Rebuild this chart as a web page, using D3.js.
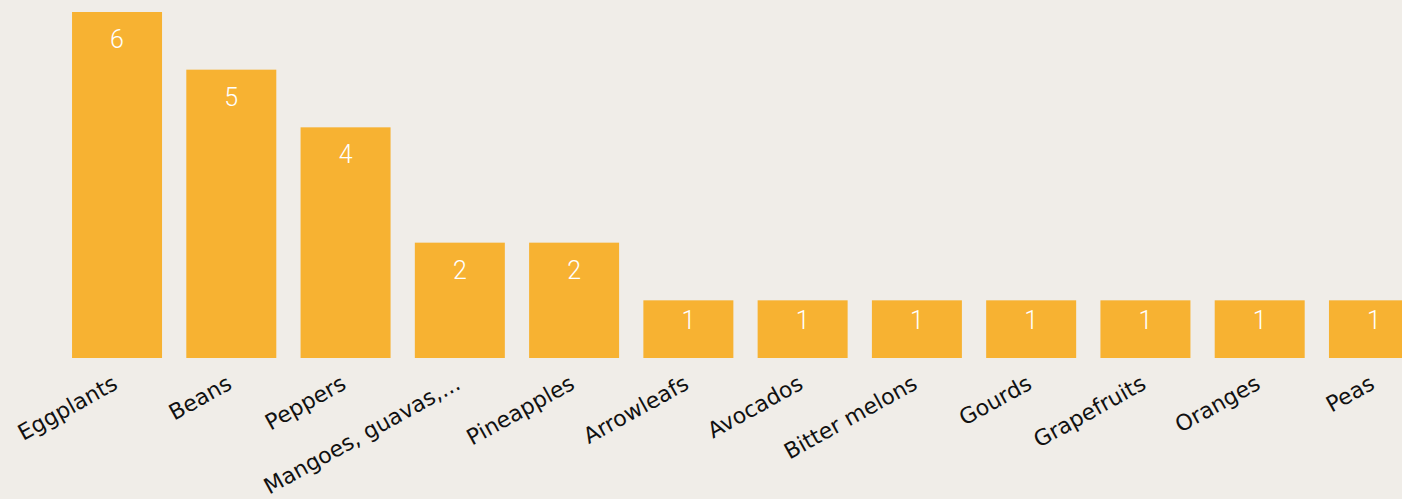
<!DOCTYPE html>
<html>
<head>
<meta charset="utf-8">
<script src="https://cdn.jsdelivr.net/npm/d3@7"></script>
<style>
  html, body { margin: 0; padding: 0; background: #f0ede8; overflow: hidden; }
  svg { display: block; }
</style>
</head>
<body>
<svg id="chart" width="1402" height="499"></svg>
<script>
const categories = ["Eggplants", "Beans", "Peppers", "Mangoes, guavas,...", "Pineapples", "Arrowleafs", "Avocados", "Bitter melons", "Gourds", "Grapefruits", "Oranges", "Peas"];
const values = [6, 5, 4, 2, 2, 1, 1, 1, 1, 1, 1, 1];
const yDomain = [0, 6];

const W = 1402, H = 499;
const svg = d3.select("#chart");
svg.append("rect").attr("width", W).attr("height", H).attr("fill", "#f0ede8");

const x = d3.scaleBand()
  .domain(categories)
  .range([59.9, 1431.1])
  .paddingInner(0.2124)
  .paddingOuter(0.1062);

const y = d3.scaleLinear().domain(yDomain).range([358, 12]);

const data = categories.map((c, i) => ({ c, v: values[i] }));

svg.append("g").selectAll("rect")
  .data(data)
  .join("rect")
  .attr("x", d => x(d.c))
  .attr("y", d => y(d.v))
  .attr("width", x.bandwidth())
  .attr("height", d => y(0) - y(d.v))
  .attr("fill", "#f7b232");

svg.append("g").selectAll("text")
  .data(data)
  .join("text")
  .attr("x", d => x(d.c) + x.bandwidth() / 2)
  .attr("y", d => y(d.v) + Math.min(36, (y(0) - y(d.v)) / 2))
  .attr("text-anchor", "middle")
  .attr("fill", "#ffffff")
  .style("font-family", "Roboto, sans-serif")
  .style("font-weight", 300)
  .style("font-size", "25px")
  .text(d => d.v);

const axis = svg.append("g")
  .attr("transform", `translate(0,${y(0)})`)
  .call(d3.axisBottom(x).tickSize(0).tickPadding(0));
axis.select(".domain").remove();
axis.selectAll(".tick text")
  .attr("x", 0).attr("y", 0).attr("dy", 0)
  .attr("text-anchor", "end")
  .attr("transform", "translate(2,30) rotate(-29)")
  .attr("fill", "#111111")
  .style("font-family", "'DejaVu Sans', sans-serif")
  .style("font-size", "22px");
</script>
</body>
</html>
